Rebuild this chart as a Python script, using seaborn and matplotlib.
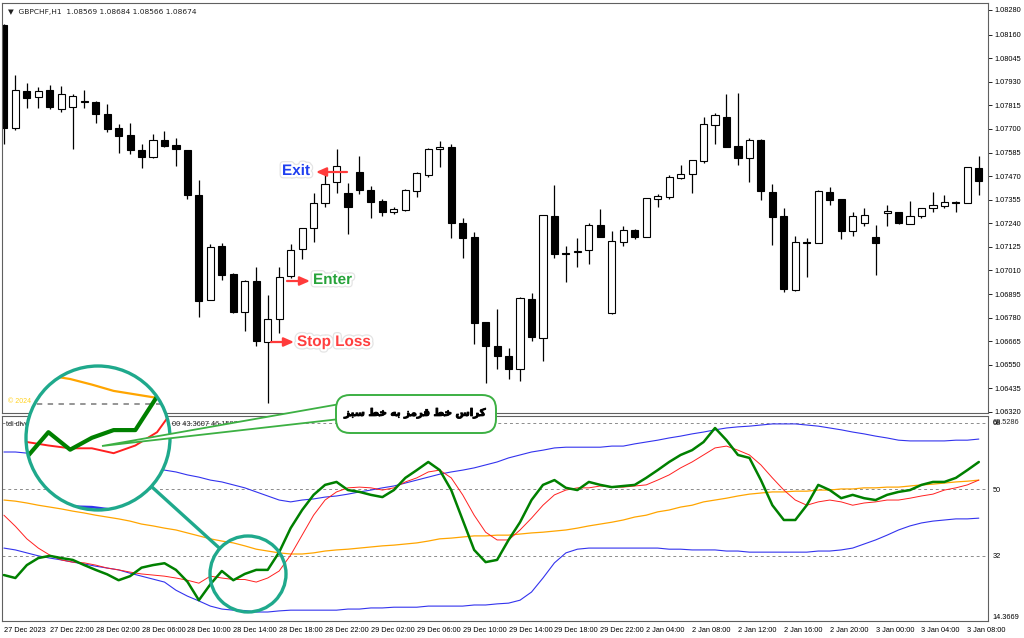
import numpy as np
import pandas as pd
import matplotlib
matplotlib.use("Agg")
import matplotlib.pyplot as plt
import seaborn as sns
from matplotlib.patches import Circle, FancyBboxPatch, Polygon
import matplotlib.patheffects as pe

# ---------------- data ----------------
symbol_header = "\u25BC  GBPCHF,H1  1.08569 1.08684 1.08566 1.08674"

opens = [1.08207,1.07705,1.07884,1.07856,1.07888,1.07799,1.07806,1.07834,1.07833,1.07774,
1.07703,1.07669,1.07599,1.07562,1.07646,1.07620,1.07596,1.07376,1.06867,1.07129,
1.06993,1.06809,1.06957,1.06663,1.06773,1.06982,1.07113,1.07216,1.07338,1.07440,
1.07386,1.07490,1.07404,1.07347,1.07294,1.07305,1.07397,1.07476,1.07601,1.07612,
1.07243,1.07172,1.06757,1.06642,1.06593,1.06530,1.06871,1.06679,1.07274,1.07097,
1.07099,1.07108,1.07232,1.06801,1.07150,1.07207,1.07175,1.07360,1.07367,1.07462,
1.07479,1.07545,1.07721,1.07760,1.07615,1.07557,1.07645,1.07393,1.07276,1.06913,
1.07147,1.07144,1.07394,1.07357,1.07202,1.07240,1.07175,1.07290,1.07294,1.07238,
1.07274,1.07315,1.07326,1.07345,1.07338,1.07508]
highs = [1.08212,1.07963,1.07926,1.07905,1.07916,1.07909,1.07869,1.07891,1.07835,1.07820,
1.07723,1.07728,1.07625,1.07674,1.07691,1.07654,1.07598,1.07451,1.07138,1.07145,
1.06996,1.06963,1.07025,1.06890,1.07025,1.07138,1.07218,1.07389,1.07492,1.07601,
1.07435,1.07568,1.07422,1.07360,1.07318,1.07406,1.07492,1.07609,1.07641,1.07627,
1.07266,1.07199,1.06758,1.06821,1.06632,1.06879,1.06899,1.07282,1.07427,1.07131,
1.07167,1.07240,1.07308,1.07204,1.07227,1.07211,1.07365,1.07383,1.07477,1.07524,
1.07550,1.07757,1.07776,1.07870,1.07874,1.07654,1.07650,1.07430,1.07316,1.07178,
1.07167,1.07402,1.07416,1.07359,1.07294,1.07315,1.07230,1.07331,1.07297,1.07349,
1.07316,1.07391,1.07376,1.07350,1.07514,1.07568]
lows = [1.07627,1.07695,1.07801,1.07802,1.07797,1.07784,1.07601,1.07804,1.07730,1.07684,
1.07584,1.07576,1.07511,1.07560,1.07613,1.07521,1.07357,1.06785,1.06865,1.06963,
1.06801,1.06716,1.06642,1.06362,1.06704,1.06972,1.07064,1.07150,1.07321,1.07386,
1.07188,1.07384,1.07267,1.07277,1.07285,1.07301,1.07370,1.07467,1.07516,1.07168,
1.07069,1.06651,1.06460,1.06528,1.06481,1.06473,1.06668,1.06569,1.07069,1.06955,
1.07025,1.07042,1.07174,1.06800,1.07129,1.07162,1.07174,1.07321,1.07358,1.07454,
1.07386,1.07535,1.07625,1.07610,1.07524,1.07440,1.07354,1.07134,1.06906,1.06911,
1.06980,1.07142,1.07328,1.07162,1.07178,1.07227,1.06986,1.07228,1.07237,1.07235,
1.07264,1.07297,1.07313,1.07297,1.07337,1.07378]
closes = [1.07705,1.07888,1.07852,1.07884,1.07808,1.07870,1.07861,1.07831,1.07774,1.07701,
1.07667,1.07597,1.07562,1.07645,1.07618,1.07601,1.07376,1.06863,1.07124,1.06989,
1.06809,1.06960,1.06666,1.06775,1.06977,1.07110,1.07216,1.07340,1.07430,1.07521,
1.07321,1.07402,1.07345,1.07294,1.07308,1.07401,1.07484,1.07601,1.07612,1.07240,
1.07168,1.06755,1.06642,1.06593,1.06530,1.06874,1.06687,1.07279,1.07092,1.07092,
1.07106,1.07230,1.07175,1.07155,1.07206,1.07175,1.07362,1.07373,1.07464,1.07479,
1.07549,1.07723,1.07768,1.07612,1.07560,1.07645,1.07396,1.07271,1.06921,1.07147,
1.07144,1.07397,1.07354,1.07202,1.07277,1.07279,1.07142,1.07298,1.07240,1.07276,
1.07315,1.07331,1.07342,1.07339,1.07513,1.07448]

price_ticks = [1.08280,1.08160,1.08045,1.07930,1.07815,1.07700,1.07585,1.07470,1.07355,
               1.07240,1.07125,1.07010,1.06895,1.06780,1.06665,1.06550,1.06435,1.06320]

# TDI indicator lines
tdi_green = [26.8,26.0,29.5,31.4,32.0,31.4,30.9,29.5,28.2,27.0,
25.4,26.5,28.8,29.5,30.0,28.2,25.0,20.0,24.3,27.9,
25.4,27.1,28.2,28.2,33.0,39.5,44.4,48.5,51.2,52.0,
49.8,49.3,48.5,47.9,49.8,53.1,55.2,57.4,55.2,49.8,
41.7,33.6,30.3,30.9,36.3,41.1,47.1,51.2,52.5,50.4,
49.8,52.0,51.2,50.6,50.9,51.2,53.1,55.2,57.4,59.3,
60.6,62.8,66.6,63.3,59.3,58.5,52.5,45.7,41.7,41.7,
45.7,51.2,49.8,47.6,48.5,47.6,47.1,48.5,49.3,49.8,
51.2,52.0,52.0,53.1,55.2,57.4]
tdi_red = [43.0,40.0,36.6,34.1,32.2,30.9,30.3,30.1,29.5,28.7,
28.2,27.6,27.1,26.8,26.5,26.0,25.4,24.6,26.5,26.0,
25.6,25.6,24.9,26.0,27.9,32.2,37.6,43.0,47.1,49.3,
50.4,50.6,50.4,49.8,50.4,52.0,53.1,54.7,55.2,53.1,
48.5,43.0,38.4,36.3,36.3,39.0,42.2,45.7,48.5,49.8,
50.4,50.4,50.9,50.6,50.6,50.9,51.2,52.5,53.9,55.8,
57.4,59.3,61.2,61.7,60.6,59.3,56.6,53.1,49.8,47.1,
45.7,46.6,47.1,46.6,45.7,46.3,46.6,47.1,47.1,47.6,
48.2,48.7,49.8,50.4,51.2,52.5]
tdi_mid = [47.1,46.8,46.3,45.7,45.2,44.7,44.1,43.6,43.0,42.5,
42.0,41.4,40.6,40.1,39.5,39.0,38.2,37.4,36.6,36.0,
35.5,34.7,33.8,33.3,32.8,32.5,32.5,32.8,33.3,33.6,
33.8,34.1,34.4,34.7,34.9,35.2,35.5,36.0,36.6,36.8,
37.1,37.4,37.4,37.6,37.6,37.9,38.2,38.4,38.7,39.0,
39.5,40.1,40.6,41.1,41.7,42.5,43.0,43.9,44.4,45.2,
45.7,46.6,47.1,47.6,48.2,48.7,49.0,49.3,49.3,49.5,
49.5,49.8,49.8,50.1,50.1,50.4,50.4,50.6,50.6,50.9,
51.2,51.4,51.7,52.0,52.2,52.5]
tdi_upper = [60.1,60.1,59.8,59.6,59.3,59.0,58.5,58.2,57.9,57.7,
57.4,57.1,56.6,56.0,55.2,54.7,53.9,53.3,52.5,52.0,
51.2,50.4,49.3,48.2,47.1,46.6,47.1,47.4,47.9,48.2,
48.7,49.3,49.8,50.4,50.9,51.7,52.5,53.3,54.1,54.7,
55.2,55.8,56.6,57.4,58.5,59.3,60.1,60.6,61.2,61.4,
61.4,61.4,61.4,61.7,61.7,62.3,62.8,63.3,63.9,64.4,
65.0,65.5,66.1,66.6,66.9,67.1,67.4,67.7,67.7,67.7,
67.4,67.1,66.6,66.1,65.5,65.0,64.4,63.9,63.3,63.1,
63.1,63.1,63.1,63.3,63.3,63.6]
tdi_lower = [34.1,33.6,32.8,32.0,31.4,30.9,30.3,29.8,29.2,28.7,
28.2,27.3,26.5,25.7,24.9,22.7,21.1,19.8,18.4,17.6,
17.3,17.2,16.8,16.8,17.1,17.3,17.3,17.3,17.3,17.3,
17.6,17.6,17.9,17.9,18.1,18.1,18.1,18.4,18.4,18.4,
18.4,18.7,18.7,19.0,19.2,20.0,22.2,26.0,30.1,32.8,
33.8,34.1,34.1,34.1,34.1,34.1,34.1,34.1,33.8,33.8,
33.6,33.6,33.6,33.3,33.3,33.0,33.0,33.0,33.0,33.0,
33.0,33.3,33.3,33.6,34.1,35.2,36.3,37.6,39.0,40.1,
40.9,41.4,41.7,42.0,42.0,42.2]
tdi_levels = [68, 50, 32]
tdi_range = (14.3669, 68.5286)

time_tick_idx = list(range(0, 85, 4))
time_labels = ["27 Dec 2023","27 Dec 22:00","28 Dec 02:00","28 Dec 06:00","28 Dec 10:00",
               "28 Dec 14:00","28 Dec 18:00","28 Dec 22:00","29 Dec 02:00","29 Dec 06:00",
               "29 Dec 10:00","29 Dec 14:00","29 Dec 18:00","29 Dec 22:00","2 Jan 04:00",
               "2 Jan 08:00","2 Jan 12:00","2 Jan 16:00","2 Jan 20:00","3 Jan 00:00",
               "3 Jan 04:00","3 Jan 08:00"]

persian_text = "کراس خط قرمز به خط سبز"

# ---------------- Persian shaping (presentation forms, visual order) ----------------
FORMS = {
    'ک': ('\uFB8E', '\uFB8F', '\uFB90', '\uFB91'),
    'ر': ('\uFEAD', '\uFEAE', None, None),
    'ا': ('\uFE8D', '\uFE8E', None, None),
    'س': ('\uFEB1', '\uFEB2', '\uFEB3', '\uFEB4'),
    'خ': ('\uFEA5', '\uFEA6', '\uFEA7', '\uFEA8'),
    'ط': ('\uFEC1', '\uFEC2', '\uFEC3', '\uFEC4'),
    'ق': ('\uFED5', '\uFED6', '\uFED7', '\uFED8'),
    'م': ('\uFEE1', '\uFEE2', '\uFEE3', '\uFEE4'),
    'ز': ('\uFEAF', '\uFEB0', None, None),
    'ب': ('\uFE8F', '\uFE90', '\uFE91', '\uFE92'),
    'ه': ('\uFEE9', '\uFEEA', '\uFEEB', '\uFEEC'),
}

def shape_word(w):
    out = []
    for i, ch in enumerate(w):
        f = FORMS[ch]
        prev_j = i > 0 and FORMS[w[i - 1]][2] is not None
        next_j = f[2] is not None and i < len(w) - 1
        if prev_j and next_j:
            out.append(f[3])
        elif prev_j:
            out.append(f[1])
        elif next_j:
            out.append(f[2])
        else:
            out.append(f[0])
    return ''.join(out)

persian_visual = ' '.join(shape_word(w) for w in persian_text.split(' '))[::-1]

# ---------------- figure ----------------
sns.set_theme(style="white")
plt.rcParams['font.family'] = ['Liberation Sans', 'DejaVu Sans']
W, H = 1024, 638
fig = plt.figure(figsize=(W / 100, H / 100), dpi=100)
fig.patch.set_facecolor('white')

def fr(x0, y0, x1, y1):
    return [x0 / W, 1 - y1 / H, (x1 - x0) / W, (y1 - y0) / H]

n = len(opens)
xs = np.arange(n)
XL = (-0.166, 85.8)
TICK_FS = 5.3

df = pd.DataFrame(dict(x=xs, o=opens, h=highs, l=lows, c=closes,
                       green=tdi_green, red=tdi_red, mid=tdi_mid,
                       up=tdi_upper, lo=tdi_lower))

# price panel
ax = fig.add_axes(fr(2, 3, 988, 413))
ax.set_facecolor('white')
bull = df.c >= df.o
ax.vlines(df.x, df.l, df.h, color='black', lw=0.9, zorder=1)
body_lo = np.minimum(df.o, df.c)
body_h = np.maximum(np.abs(df.c - df.o), 0.000015)
ax.bar(df.x, body_h, bottom=body_lo, width=0.62,
       color=np.where(bull, 'white', 'black'), edgecolor='black', linewidth=0.8, zorder=2)
p_top = 1.08280 + 7 * 0.0196 / 402
p_bot = 1.08280 - 403 * 0.0196 / 402
ax.set_ylim(p_bot, p_top)
ax.set_xlim(*XL)
ax.yaxis.tick_right()
ax.set_yticks(price_ticks)
ax.set_yticklabels([f"{t:.5f}" for t in price_ticks])
ax.tick_params(axis='y', direction='out', length=3, width=0.6, labelsize=TICK_FS, pad=1.5,
               colors='black', right=True, left=False)
ax.set_xticks([])
for s in ax.spines.values():
    s.set_color('#606060'); s.set_linewidth(0.8)
ax.text(0.006, 0.985, symbol_header, transform=ax.transAxes, fontsize=5.4,
        va='top', ha='left', color='#202020', family=['DejaVu Sans'])
ax.text(0.006, 0.028, "\u00A9 2024", transform=ax.transAxes, fontsize=5,
        color='#ffd21f', va='center', ha='left')

# indicator panel
axi = fig.add_axes(fr(2, 416, 988, 621))
axi.set_facecolor('white')
for lv in tdi_levels:
    axi.axhline(lv, color='#8c8c8c', lw=0.7, ls=(0, (3, 3)), zorder=1)
sns.lineplot(data=df, x='x', y='up', ax=axi, color='#3333ee', lw=0.8, estimator=None, sort=False, zorder=2)
sns.lineplot(data=df, x='x', y='lo', ax=axi, color='#3333ee', lw=0.8, estimator=None, sort=False, zorder=2)
sns.lineplot(data=df, x='x', y='mid', ax=axi, color='#ffa500', lw=0.9, estimator=None, sort=False, zorder=3)
sns.lineplot(data=df, x='x', y='red', ax=axi, color='#ff2020', lw=0.7, estimator=None, sort=False, zorder=4)
sns.lineplot(data=df, x='x', y='green', ax=axi, color='#008000', lw=1.8, estimator=None, sort=False, zorder=5)
i_bot = tdi_range[0]
i_top = 50 + (489.3 - 416) / 3.694
axi.set_ylim(i_bot, i_top)
axi.set_xlim(*XL)
axi.set_xlabel(''); axi.set_ylabel('')
axi.yaxis.tick_right()
axi.set_yticks([68, 50, 32, tdi_range[0]])
axi.set_yticklabels(['68', '50', '32', f"{tdi_range[0]:.4f}"])
axi.tick_params(axis='y', length=0, labelsize=TICK_FS, pad=3.5, colors='black')
for lab in axi.get_yticklabels():
    if lab.get_text() == f"{tdi_range[0]:.4f}":
        lab.set_va('bottom')
axi.text(1.0045, 1 - 3 / 205, f"{tdi_range[1]:.4f}", transform=axi.transAxes,
         fontsize=TICK_FS, va='top', ha='left')
axi.set_xticks(time_tick_idx)
axi.set_xticklabels(time_labels)
axi.tick_params(axis='x', direction='out', length=3, width=0.6, labelsize=TICK_FS, pad=1.5, colors='black')
for lab in axi.get_xticklabels():
    lab.set_ha('left')
for s in axi.spines.values():
    s.set_color('#606060'); s.set_linewidth(0.8)
axi.text(0.004, 0.975, "tdi divergence", transform=axi.transAxes, fontsize=5.3, va='top', ha='left')
axi.text(0.172, 0.975, "00 43.3607 46.1587 47.3682", transform=axi.transAxes, fontsize=5.3,
         va='top', ha='left')

# overlay in pixel coordinates
ov = fig.add_axes([0, 0, 1, 1], zorder=10)
ov.set_xlim(0, W); ov.set_ylim(H, 0); ov.axis('off'); ov.patch.set_alpha(0)

# magnified inset (circle)
BIG_C, BIG_R = (98, 438), 72
SM_C, SM_R = (248, 574), 38
axin = fig.add_axes(fr(BIG_C[0] - BIG_R, BIG_C[1] - BIG_R, BIG_C[0] + BIG_R, BIG_C[1] + BIG_R), zorder=9)
axin.axis('off')
clip = Circle((0.5, 0.5), 0.5, transform=axin.transAxes)
bg = Circle((0.5, 0.5), 0.5, transform=axin.transAxes, facecolor='white', edgecolor='none', zorder=0)
axin.add_patch(bg)
cx = (SM_C[0] - 3.9) / 11.47
cy = 50 - (SM_C[1] - 489.3) / 3.694
hx, hy = SM_R / 11.47, SM_R / 3.694
arts = []
for lv in tdi_levels:
    arts.append(axin.axhline(lv, color='#8c8c8c', lw=1.3, ls=(0, (3, 3)), zorder=1))
arts += axin.plot(df.x, df.up, color='#3333ee', lw=1.8, zorder=2)
arts += axin.plot(df.x, df.lo, color='#3333ee', lw=1.8, zorder=2)
arts += axin.plot(df.x, df.mid, color='#ffa500', lw=1.6, zorder=3)
arts += axin.plot(df.x, df.red, color='#ff2020', lw=1.4, zorder=4)
arts += axin.plot(df.x, df.green, color='#008000', lw=3.0, zorder=5)
for a in arts:
    a.set_clip_path(clip)
axin.set_xlim(cx - hx, cx + hx)
axin.set_ylim(cy - hy, cy + hy)

teal = '#1fa98c'
ov.add_patch(Circle(BIG_C, BIG_R, fill=False, edgecolor=teal, lw=2.4))
ov.add_patch(Circle(SM_C, SM_R, fill=False, edgecolor=teal, lw=2.4))
ov.plot([151.3, 219.8], [486.4, 548.5], color=teal, lw=2.4, solid_capstyle='butt')

# callout
green_edge = '#3cb043'
tail = Polygon([(340, 404), (102, 446), (340, 419)], closed=True, facecolor='white',
               edgecolor=green_edge, lw=1.3, zorder=11)
ov.add_patch(tail)
box = FancyBboxPatch((336, 395), 160, 38, boxstyle="round,pad=0,rounding_size=14",
                     facecolor='white', edgecolor=green_edge, lw=1.4, zorder=12)
ov.add_patch(box)
ov.text(415, 413, persian_visual, fontsize=7.4, fontweight='bold', ha='center', va='center',
        color='black', zorder=13, family=['DejaVu Sans'],
        path_effects=[pe.withStroke(linewidth=0.7, foreground='black')])

# trade annotations
halo = [pe.withStroke(linewidth=5, foreground='#e4e4e4'),
        pe.withStroke(linewidth=3.2, foreground='white')]
arrow_red = '#ff3b3b'
def arrow(x0, x1, y):
    ov.annotate('', xy=(x1, y), xytext=(x0, y),
                arrowprops=dict(arrowstyle='-|>,head_length=0.5,head_width=0.22',
                                color=arrow_red, lw=1.6, shrinkA=0, shrinkB=0))
arrow(347, 316, 172)
ov.text(296, 171, "Exit", fontsize=11, fontweight='bold', color='#1f3ff0', ha='center',
        va='center', path_effects=halo)
arrow(287, 310, 281)
ov.text(313, 280, "Enter", fontsize=11, fontweight='bold', color='#27a33a', ha='left',
        va='center', path_effects=halo)
arrow(271, 294, 342)
ov.text(297, 342, "Stop Loss", fontsize=11, fontweight='bold', color='#ff3f3f', ha='left',
        va='center', path_effects=halo)

fig.savefig('out.png', dpi=100, facecolor='white')
